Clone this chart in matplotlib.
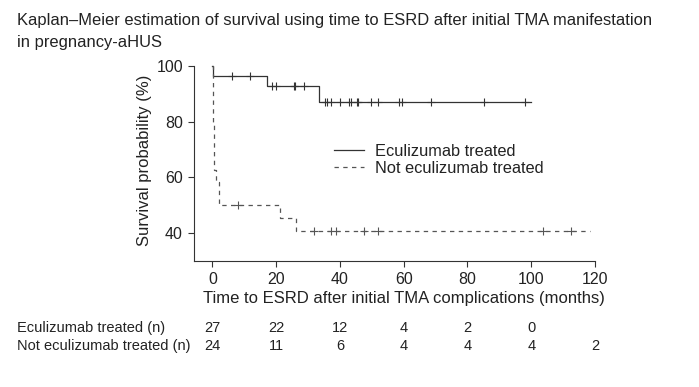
import matplotlib
matplotlib.use("Agg")
import matplotlib.pyplot as plt
import matplotlib.transforms as mtransforms
import numpy as np

plt.rcParams["font.family"] = ["Liberation Sans", "DejaVu Sans"]

# Kaplan-Meier steps (time in months, survival in %)
ecu_time = [0, 0.2, 17.2, 33.5, 100]
ecu_surv = [100, 96.3, 92.6, 87.1, 87.1]
ecu_censor = [6.0, 11.8, 18.7, 19.9, 25.5, 26.0, 28.6, 35.3, 35.8, 37.1, 40.0,
              42.7, 43.4, 45.4, 45.8, 49.7, 51.8, 58.6, 59.5, 68.5, 85.3, 98.1]

non_time = [0, 0.1, 0.5, 1.2, 2.1, 21.3, 26.1, 118.5]
non_surv = [100, 79.2, 62.5, 58.3, 50.0, 45.45, 40.9, 40.9]
non_censor = [7.9, 31.9, 37.2, 38.6, 47.6, 51.8, 103.8, 112.5]

# numbers at risk
risk_times = [0, 20, 40, 60, 80, 100, 120]
ecu_risk = [27, 22, 12, 4, 2, 0]
non_risk = [24, 11, 6, 4, 4, 4, 2]

labels = ["Eculizumab treated", "Not eculizumab treated"]
TXT = "#222222"


def surv_at(times, surv, c):
    i = np.searchsorted(times, c, side="right") - 1
    return surv[i]


fig = plt.figure(figsize=(6.99, 3.87), dpi=100)
ax = fig.add_axes([194 / 699, 1 - 261 / 387, (595 - 194) / 699, (261 - 65.7) / 387])

ax.step(ecu_time, ecu_surv, where="post", color="#333333", lw=0.9, clip_on=False,
        label=labels[0])
ax.step(non_time, non_surv, where="post", color="#555555", lw=0.9, clip_on=False,
        dashes=(3.5, 3.5), label=labels[1])
ax.plot(ecu_censor, [surv_at(ecu_time, ecu_surv, c) for c in ecu_censor], ls="none",
        marker="+", ms=6, mew=0.8, color="#333333")
ax.plot(non_censor, [surv_at(non_time, non_surv, c) for c in non_censor], ls="none",
        marker="+", ms=6, mew=0.8, color="#555555")

ax.set_xlim(-5.8, 120)
ax.set_ylim(30, 100)
ax.set_xticks([0, 20, 40, 60, 80, 100, 120])
ax.set_yticks([40, 60, 80, 100])
ax.spines[["top", "right"]].set_visible(False)
for s in ("left", "bottom"):
    ax.spines[s].set_linewidth(0.8)
    ax.spines[s].set_color("#333333")
ax.tick_params(labelsize=11.5, length=4, width=0.8, pad=4, colors="#333333", labelcolor=TXT)

# axis titles
bt = mtransforms.blended_transform_factory(ax.transData, fig.transFigure)
ax.text(60, 1 - 299 / 387, "Time to ESRD after initial TMA complications (months)",
        transform=bt, ha="center", va="center", fontsize=12, color=TXT)
fig.text(145 / 699, 1 - 160 / 387, "Survival probability (%)", rotation=90,
         ha="center", va="center", fontsize=12, color=TXT)

leg = ax.legend(loc="center left", bbox_to_anchor=(334 / 699, 1 - 160 / 387),
                bbox_transform=fig.transFigure, frameon=False, fontsize=11.8,
                handlelength=1.8, handletextpad=0.7, labelspacing=0.15,
                borderpad=0, borderaxespad=0)
for t in leg.get_texts():
    t.set_color(TXT)

# title
fig.text(17 / 699, 1 - 20 / 387,
         "Kaplan\u2013Meier estimation of survival using time to ESRD after initial TMA manifestation",
         ha="left", va="center", fontsize=11.9, color=TXT)
fig.text(17 / 699, 1 - 42 / 387, "in pregnancy-aHUS", ha="left", va="center",
         fontsize=11.9, color=TXT)

# risk table
rows = [("Eculizumab treated (n)", ecu_risk, 328), ("Not eculizumab treated (n)", non_risk, 346)]
for lab, vals, ypx in rows:
    fig.text(17 / 699, 1 - ypx / 387, lab, ha="left", va="center", fontsize=10.5, color=TXT)
    for t, v in zip(risk_times, vals):
        ax.text(t, 1 - ypx / 387, str(v), transform=bt, ha="center", va="center",
                fontsize=10.5, color=TXT)

fig.savefig("out.png", dpi=100, facecolor="white")
